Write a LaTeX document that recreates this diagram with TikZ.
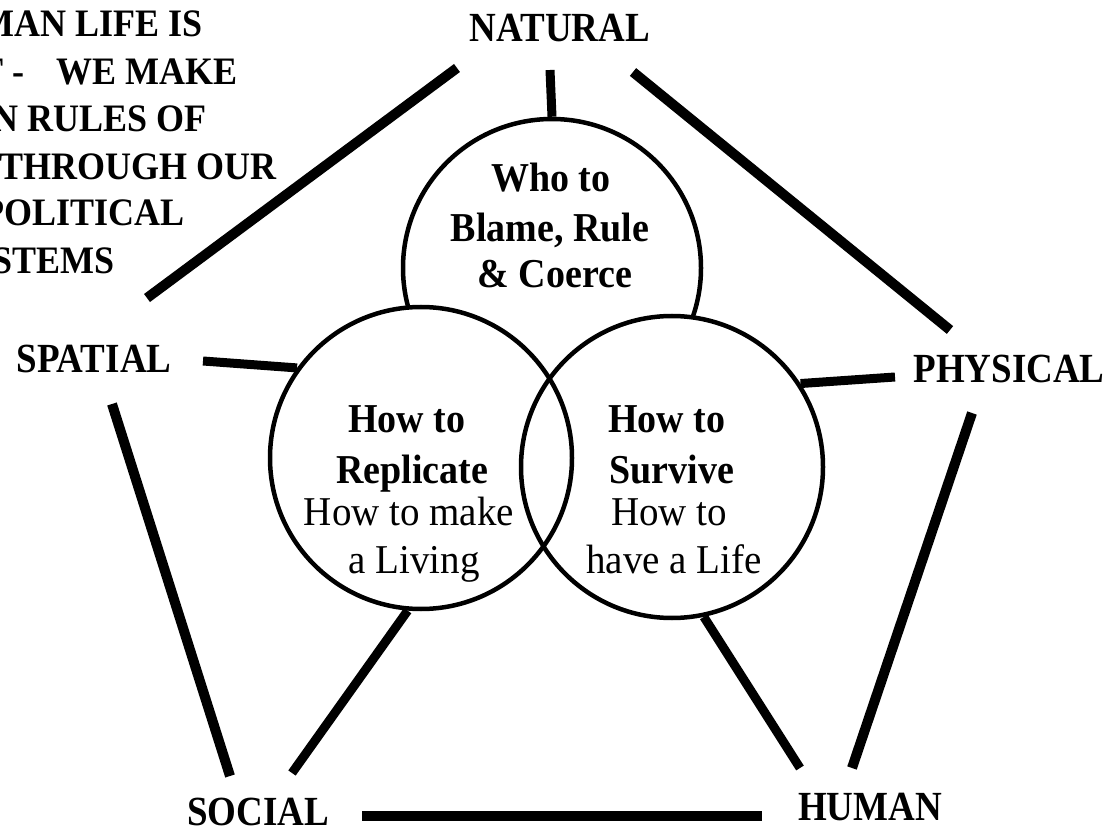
\documentclass[tikz,border=0pt]{standalone}
\usepackage{fontspec}
\setmainfont{Liberation Serif}
\begin{document}
\begin{tikzpicture}[x=1pt,y=-1pt,
  lbl/.style={font=\bfseries\fontsize{37}{40}\selectfont, anchor=base, inner sep=0pt, yscale=1.12},
  note/.style={font=\bfseries\fontsize{36}{40}\selectfont, anchor=base east, inner sep=0pt, yscale=1.08},
  bold/.style={font=\bfseries\fontsize{38}{40}\selectfont, anchor=base, inner sep=0pt, yscale=1.08},
  plain/.style={font=\fontsize{39}{40}\selectfont, anchor=base, inner sep=0pt, yscale=1.05},
  ring/.style={circle, draw, line width=4.5pt, inner sep=0pt},
  bar/.style={line width=10pt},
  stub/.style={line width=9pt}]
\useasboundingbox (0,0) rectangle (1109,826);
\clip (0,0) rectangle (1109,826);

% note in the upper left corner
\node[note] (n1) at (203,37) {MAN LIFE IS};
\node[note] (n2) at (238,85) {T -\hspace{0.9em}WE MAKE};
\node[note] (n3) at (207,132) {N RULES OF};
\node[note] (n4) at (277,180) {THROUGH OUR};
\node[note] (n5) at (185,226) {POLITICAL};
\node[note] (n6) at (115,274) {STEMS};

% the five outer labels
\node[lbl] (natural) at (560,42) {NATURAL};
\node[lbl] (spatial) at (94,373) {SPATIAL};
\node[lbl] (physical) at (1009,383) {PHYSICAL};
\node[lbl] (social) at (258,825) {SOCIAL};
\node[lbl] (human) at (870,820) {HUMAN};

% the three circles; the lower two hide the bottom of the upper one
\node[ring, minimum size=298pt] (top) at (552,268) {};
\fill[white] (421,458) circle[radius=151];
\fill[white] (672,467) circle[radius=151];
\node[ring, minimum size=302pt] (left) at (421,458) {};
\node[ring, minimum size=302pt] (right) at (672,467) {};

% circle texts
\node[bold] (t1) at (551,192) {Who to};
\node[bold] (t2) at (550,242) {Blame, Rule};
\node[bold] (t3) at (555,288) {\& Coerce};

\node[bold] (l1) at (407,432) {How to};
\node[bold] (l2) at (412,483) {Replicate};
\node[plain] (l3) at (409,525) {How to make};
\node[plain] (l4) at (414,573) {a Living};

\node[bold] (r1) at (667,432) {How to};
\node[bold] (r2) at (672,483) {Survive};
\node[plain] (r3) at (669,525) {How to};
\node[plain] (r4) at (674,573) {have a Life};

% free ends of the connectors
\coordinate (natS) at (550,70);
\coordinate (natL) at (457,68);
\coordinate (natR) at (633,72);
\coordinate (spaT) at (147,298);
\coordinate (spaR) at (203,361);
\coordinate (spaB) at (112,404);
\coordinate (phyT) at (950,330);
\coordinate (phyL) at (895,377);
\coordinate (phyB) at (972,413);
\coordinate (socT) at (230,776);
\coordinate (socU) at (292,773);
\coordinate (socR) at (362,816);
\coordinate (humT) at (852,768);
\coordinate (humU) at (800,768);
\coordinate (humL) at (762,816);

% pentagon sides
\draw[bar] (natL) -- (spaT);
\draw[bar] (natR) -- (phyT);
\draw[bar] (spaB) -- (socT);
\draw[bar] (phyB) -- (humT);
\draw[bar] (socR) -- (humL);

% spokes into the circles
\draw[stub] (natS) -- (top.north);
\draw[stub] (spaR) -- (left.144);
\draw[stub] (phyL) -- (right.33);
\draw[stub] (socU) -- (left.-95);
\draw[stub] (humU) -- (right.-78);
\end{tikzpicture}
\end{document}
